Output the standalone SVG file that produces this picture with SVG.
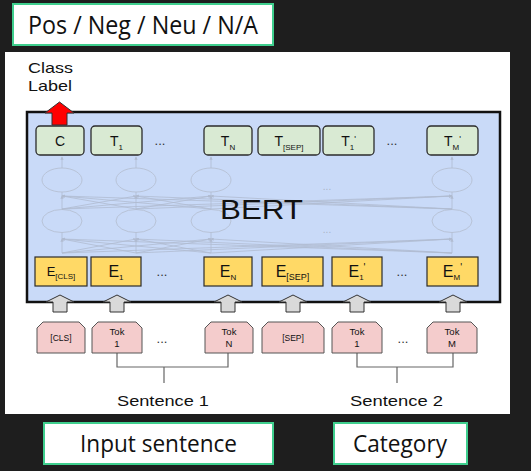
<svg xmlns="http://www.w3.org/2000/svg" width="531" height="471" viewBox="0 0 531 471">
<defs>
<style>
.big{font-family:"Open Sans","Noto Sans",sans-serif;fill:#111}
.lbl{font-family:"Liberation Sans",Arial,sans-serif;fill:#111}
.tbox{fill:#d9ead3;stroke:#2b2b2b;stroke-width:1.3}
.ebox{fill:#ffd966;stroke:#2b2b2b;stroke-width:1.2}
.pbox{fill:#f4cccc;stroke:#555;stroke-width:1}
.garrow{fill:#d9d9d9;stroke:#333;stroke-width:1}
.net{stroke:#b0bbd0;stroke-width:0.8;fill:none}
.ell{stroke:#b8c3d7;stroke-width:1;fill:none}
.brk{stroke:#666;stroke-width:1.2;fill:none}
.dots{font-family:"Liberation Sans",Arial,sans-serif;font-size:13px;fill:#333}
.green{fill:#fff;stroke:#3fcf8e;stroke-width:2}
</style>
<marker id="ah" viewBox="0 0 6 6" refX="5" refY="3" markerWidth="4" markerHeight="4" orient="auto">
<path d="M0,0 L6,3 L0,6 z" fill="#b0bbd0"/>
</marker>
</defs>
<rect x="0" y="0" width="531" height="471" fill="#1e1e1e"/>
<rect x="5" y="52" width="505" height="362" fill="#fff"/>

<g id="out-label">
<rect class="green" x="13" y="4" width="260" height="41"/>
<text class="big" x="28" y="34" font-size="25" textLength="230" lengthAdjust="spacingAndGlyphs">Pos / Neg / Neu / N/A</text>
</g>

<g id="class-label">
<text class="lbl" x="28" y="73" font-size="15" textLength="45" lengthAdjust="spacingAndGlyphs">Class</text>
<text class="lbl" x="28" y="91" font-size="15" textLength="44" lengthAdjust="spacingAndGlyphs">Label</text>
</g>

<g id="bert">
<rect x="27" y="112" width="473" height="190" fill="#c9daf8" stroke="#111" stroke-width="2.5"/>
<g id="network">
<ellipse class="ell" cx="62" cy="180" rx="20" ry="12"/>
<ellipse class="ell" cx="136" cy="180" rx="20" ry="12"/>
<ellipse class="ell" cx="211" cy="180" rx="20" ry="12"/>
<ellipse class="ell" cx="452" cy="180" rx="20" ry="12"/>
<ellipse class="ell" cx="62" cy="221" rx="20" ry="11.5"/>
<ellipse class="ell" cx="136" cy="221" rx="20" ry="11.5"/>
<ellipse class="ell" cx="211" cy="221" rx="20" ry="11.5"/>
<ellipse class="ell" cx="452" cy="221" rx="20" ry="11.5"/>
<text x="327" y="190" font-family="Liberation Sans,Arial,sans-serif" font-size="10" fill="#aab3c6" text-anchor="middle">...</text>
<text x="327" y="233" font-family="Liberation Sans,Arial,sans-serif" font-size="10" fill="#aab3c6" text-anchor="middle">...</text>
</g>
</g>

<g id="connectors">
<g id="net-lines">
<path class="net" marker-end="url(#ah)" d="M62,253 L62,239"/>
<path class="net" marker-end="url(#ah)" d="M62,253 L136,239"/>
<path class="net" marker-end="url(#ah)" d="M62,253 L211,239"/>
<path class="net" marker-end="url(#ah)" d="M62,253 L452,239"/>
<path class="net" marker-end="url(#ah)" d="M136,253 L62,239"/>
<path class="net" marker-end="url(#ah)" d="M136,253 L136,239"/>
<path class="net" marker-end="url(#ah)" d="M136,253 L211,239"/>
<path class="net" marker-end="url(#ah)" d="M136,253 L452,239"/>
<path class="net" marker-end="url(#ah)" d="M211,253 L62,239"/>
<path class="net" marker-end="url(#ah)" d="M211,253 L136,239"/>
<path class="net" marker-end="url(#ah)" d="M211,253 L211,239"/>
<path class="net" marker-end="url(#ah)" d="M211,253 L452,239"/>
<path class="net" marker-end="url(#ah)" d="M452,253 L62,239"/>
<path class="net" marker-end="url(#ah)" d="M452,253 L136,239"/>
<path class="net" marker-end="url(#ah)" d="M452,253 L211,239"/>
<path class="net" marker-end="url(#ah)" d="M452,253 L452,239"/>
<path class="net" d="M62,239 V232.5 M136,239 V232.5 M211,239 V232.5 M452,239 V232.5"/>
<path class="net" marker-end="url(#ah)" d="M62,209 L62,196"/>
<path class="net" marker-end="url(#ah)" d="M62,209 L136,196"/>
<path class="net" marker-end="url(#ah)" d="M62,209 L211,196"/>
<path class="net" marker-end="url(#ah)" d="M62,209 L452,196"/>
<path class="net" marker-end="url(#ah)" d="M136,209 L62,196"/>
<path class="net" marker-end="url(#ah)" d="M136,209 L136,196"/>
<path class="net" marker-end="url(#ah)" d="M136,209 L211,196"/>
<path class="net" marker-end="url(#ah)" d="M136,209 L452,196"/>
<path class="net" marker-end="url(#ah)" d="M211,209 L62,196"/>
<path class="net" marker-end="url(#ah)" d="M211,209 L136,196"/>
<path class="net" marker-end="url(#ah)" d="M211,209 L211,196"/>
<path class="net" marker-end="url(#ah)" d="M211,209 L452,196"/>
<path class="net" marker-end="url(#ah)" d="M452,209 L62,196"/>
<path class="net" marker-end="url(#ah)" d="M452,209 L136,196"/>
<path class="net" marker-end="url(#ah)" d="M452,209 L211,196"/>
<path class="net" marker-end="url(#ah)" d="M452,209 L452,196"/>
<path class="net" d="M62,196 V192 M136,196 V192 M211,196 V192 M452,196 V192"/>
<path class="net" marker-end="url(#ah)" d="M62,168 V157"/>
<path class="net" marker-end="url(#ah)" d="M136,168 V157"/>
<path class="net" marker-end="url(#ah)" d="M211,168 V157"/>
<path class="net" marker-end="url(#ah)" d="M452,168 V157"/>
</g>
<g id="input-arrows">
<path class="garrow" d="M60,295 L74,302 L67,302 L67,312 L53,312 L53,302 L46,302 Z"/>
<path class="garrow" d="M117,295 L131,302 L124,302 L124,312 L110,312 L110,302 L103,302 Z"/>
<path class="garrow" d="M228,295 L242,302 L235,302 L235,312 L221,312 L221,302 L214,302 Z"/>
<path class="garrow" d="M293,295 L307,302 L300,302 L300,312 L286,312 L286,302 L279,302 Z"/>
<path class="garrow" d="M357,295 L371,302 L364,302 L364,312 L350,312 L350,302 L343,302 Z"/>
<path class="garrow" d="M453,295 L467,302 L460,302 L460,312 L446,312 L446,302 L439,302 Z"/>
</g>
<path id="class-arrow" d="M59.5,102 L74,113 L67,113 L67,125 L52,125 L52,113 L45,113 Z" fill="#ff0000" stroke="#333" stroke-width="1"/>
<path class="brk" d="M117,353 V367 H228 V353 M164,367 V383"/>
<path class="brk" d="M357,353 V367 H453 V353 M397,367 V383"/>
</g>

<text id="bert-title" class="lbl" x="220" y="219" font-size="27" textLength="83" lengthAdjust="spacingAndGlyphs" fill="#000">BERT</text>

<g id="tokens-top">
<g id="n-C"><rect class="tbox" x="36" y="126" width="48" height="29" rx="4"/><text class="lbl" x="60" y="146" font-size="14" text-anchor="middle">C</text></g>
<g id="n-T1"><rect class="tbox" x="91" y="126" width="51" height="29" rx="4"/><text class="lbl" x="116.5" y="146" font-size="14" text-anchor="middle">T<tspan font-size="8" dy="4">1</tspan></text></g>
<text class="dots" x="160" y="145" text-anchor="middle">...</text>
<g id="n-TN"><rect class="tbox" x="204" y="126" width="48" height="29" rx="4"/><text class="lbl" x="228" y="146" font-size="14" text-anchor="middle">T<tspan font-size="8" dy="4">N</tspan></text></g>
<g id="n-TSEP"><rect class="tbox" x="258" y="126" width="62" height="29" rx="4"/><text class="lbl" x="289" y="146" font-size="14" text-anchor="middle">T<tspan font-size="8" dy="4">[SEP]</tspan></text></g>
<g id="n-T1p"><rect class="tbox" x="323" y="126" width="51" height="29" rx="4"/><text class="lbl" x="348.5" y="146" font-size="14" text-anchor="middle">T<tspan font-size="8" dy="4">1</tspan><tspan font-size="9" dy="-8">'</tspan></text></g>
<text class="dots" x="392" y="145" text-anchor="middle">...</text>
<g id="n-TMp"><rect class="tbox" x="427" y="126" width="51" height="29" rx="4"/><text class="lbl" x="452.5" y="146" font-size="14" text-anchor="middle">T<tspan font-size="8" dy="4">M</tspan><tspan font-size="9" dy="-8">'</tspan></text></g>
</g>

<g id="embeddings">
<g id="n-ECLS"><rect class="ebox" x="35" y="257" width="52" height="29"/><text class="lbl" x="61" y="276" font-size="13" text-anchor="middle">E<tspan font-size="8" dy="3">[CLS]</tspan></text></g>
<g id="n-E1"><rect class="ebox" x="91" y="257" width="50" height="29"/><text class="lbl" x="116" y="277" font-size="16" text-anchor="middle">E<tspan font-size="8" dy="3">1</tspan></text></g>
<text class="dots" x="162" y="276" text-anchor="middle">...</text>
<g id="n-EN"><rect class="ebox" x="204" y="257" width="48" height="29"/><text class="lbl" x="228" y="277" font-size="16" text-anchor="middle">E<tspan font-size="8" dy="3">N</tspan></text></g>
<g id="n-ESEP"><rect class="ebox" x="262" y="257" width="61" height="29"/><text class="lbl" x="292.5" y="277" font-size="16" text-anchor="middle">E<tspan font-size="9" dy="3">[SEP]</tspan></text></g>
<g id="n-E1p"><rect class="ebox" x="332" y="257" width="50" height="29"/><text class="lbl" x="357" y="277" font-size="16" text-anchor="middle">E<tspan font-size="8" dy="3">1</tspan><tspan font-size="10" dy="-9">'</tspan></text></g>
<text class="dots" x="402" y="276" text-anchor="middle">...</text>
<g id="n-EMp"><rect class="ebox" x="427" y="257" width="51" height="29"/><text class="lbl" x="452.5" y="277" font-size="16" text-anchor="middle">E<tspan font-size="8" dy="3">M</tspan><tspan font-size="10" dy="-9">'</tspan></text></g>
</g>

<g id="inputs">
<g id="n-CLS"><path class="pbox" d="M43,322 H79 L85,328 V353 H37 V328 Z"/><text class="lbl" x="61" y="341" font-size="8.5" text-anchor="middle" fill="#333">[CLS]</text></g>
<g id="n-Tok1"><path class="pbox" d="M98,322 H136 L142,328 V353 H92 V328 Z"/><text class="lbl" x="117" y="335" font-size="9.5" text-anchor="middle">Tok</text><text class="lbl" x="117" y="347" font-size="9.5" text-anchor="middle">1</text></g>
<text class="dots" x="162" y="343" text-anchor="middle">...</text>
<g id="n-TokN"><path class="pbox" d="M211,322 H247 L253,328 V353 H205 V328 Z"/><text class="lbl" x="229" y="335" font-size="9.5" text-anchor="middle">Tok</text><text class="lbl" x="229" y="347" font-size="9.5" text-anchor="middle">N</text></g>
<g id="n-SEP"><path class="pbox" d="M268,322 H318 L324,328 V353 H262 V328 Z"/><text class="lbl" x="293" y="341" font-size="8.5" text-anchor="middle" fill="#333">[SEP]</text></g>
<g id="n-Tok1p"><path class="pbox" d="M338,322 H376 L382,328 V353 H332 V328 Z"/><text class="lbl" x="357" y="335" font-size="9.5" text-anchor="middle">Tok</text><text class="lbl" x="357" y="347" font-size="9.5" text-anchor="middle">1</text></g>
<text class="dots" x="403" y="343" text-anchor="middle">...</text>
<g id="n-TokM"><path class="pbox" d="M433,322 H471 L477,328 V353 H427 V328 Z"/><text class="lbl" x="452" y="335" font-size="9.5" text-anchor="middle">Tok</text><text class="lbl" x="452" y="347" font-size="9.5" text-anchor="middle">M</text></g>
</g>

<g id="sentences">
<text class="lbl" x="117" y="406" font-size="15" textLength="92" lengthAdjust="spacingAndGlyphs">Sentence 1</text>
<text class="lbl" x="350" y="406" font-size="15" textLength="93" lengthAdjust="spacingAndGlyphs">Sentence 2</text>
</g>

<g id="input-sentence">
<rect class="green" x="44" y="423" width="229" height="41"/>
<text class="big" x="80" y="452" font-size="23" textLength="157" lengthAdjust="spacingAndGlyphs">Input sentence</text>
</g>
<g id="category">
<rect class="green" x="334" y="423" width="133" height="41"/>
<text class="big" x="353" y="452" font-size="23" textLength="94" lengthAdjust="spacingAndGlyphs">Category</text>
</g>
</svg>
